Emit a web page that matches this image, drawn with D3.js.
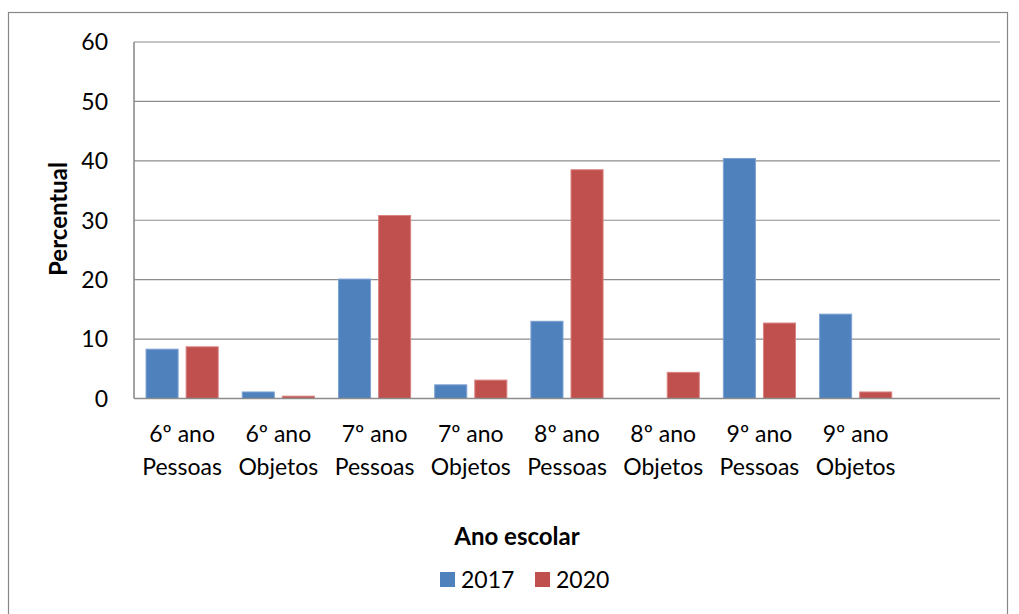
<!DOCTYPE html>
<html>
<head>
<meta charset="utf-8">
<script src="https://cdn.jsdelivr.net/npm/d3@7"></script>
<style>
  body { margin: 0; background: #fff; }
  text { font-family: Lato, "Noto Sans", sans-serif; fill: #000; }
</style>
</head>
<body>
<div id="chart"></div>
<script>
// categories (last slot is empty in the original sheet)
let categories = [
  ["6º ano", "Pessoas"], ["6º ano", "Objetos"],
  ["7º ano", "Pessoas"], ["7º ano", "Objetos"],
  ["8º ano", "Pessoas"], ["8º ano", "Objetos"],
  ["9º ano", "Pessoas"], ["9º ano", "Objetos"],
  ["", ""]
];
let seriesNames = ["2017", "2020"];
let values2017 = [8.3, 1.1, 20.1, 2.3, 13.0, 0, 40.4, 14.2, null];
let values2020 = [8.7, 0.4, 30.8, 3.1, 38.5, 4.4, 12.7, 1.1, null];
let yTicks = [0, 10, 20, 30, 40, 50, 60];
let colors = ["#4F81BD", "#C0504D"];
let strokes = ["#7FA3D3", "#D98482"];

let width = 1019, height = 614;
let plotLeft = 134, plotRight = 1000, plotTop = 42, plotBottom = 398.5;
let labelSize = "23px", titleSize = "24px";

let svg = d3.select("#chart").append("svg")
    .attr("width", width)
    .attr("height", height);

// outer chart frame
svg.append("rect")
    .attr("x", 8.5).attr("y", 12.5)
    .attr("width", 999).attr("height", 620)
    .attr("fill", "none")
    .attr("stroke", "#888")
    .attr("stroke-width", 1.2);

let idx = categories.map((d, i) => i);
let x = d3.scaleBand().domain(idx).range([plotLeft, plotRight]).paddingInner(0.25).paddingOuter(0.125);
let x1 = d3.scaleBand().domain([0, 1]).range([0, x.bandwidth()]).paddingInner(0.2);
let y = d3.scaleLinear().domain([0, 60]).range([plotBottom, plotTop]);

// gridlines
svg.append("g")
    .selectAll("line")
    .data(yTicks.filter(t => t > 0))
    .enter()
    .append("line")
    .attr("x1", plotLeft).attr("x2", plotRight)
    .attr("y1", d => y(d)).attr("y2", d => y(d))
    .attr("stroke", "#8c8c8c")
    .attr("stroke-width", 1.2);

// y tick labels
svg.append("g")
    .selectAll("text")
    .data(yTicks)
    .enter()
    .append("text")
    .attr("x", 108)
    .attr("y", d => y(d))
    .attr("dy", "0.36em")
    .attr("text-anchor", "end")
    .style("font-size", labelSize)
    .text(d => d);

// bars
let series = [values2017, values2020];
series.forEach((vals, s) => {
    svg.append("g")
        .selectAll("rect")
        .data(vals.map((v, i) => ({ i: i, v: v })).filter(d => d.v !== null && d.v > 0))
        .enter()
        .append("rect")
        .attr("x", d => x(d.i) + x1(s))
        .attr("y", d => y(d.v))
        .attr("width", x1.bandwidth())
        .attr("height", d => y(0) - y(d.v))
        .attr("fill", colors[s])
        .attr("stroke", strokes[s])
        .attr("stroke-width", 1);
});

// axes lines
svg.append("line")
    .attr("x1", plotLeft).attr("x2", plotLeft)
    .attr("y1", plotTop).attr("y2", plotBottom)
    .attr("stroke", "#8c8c8c").attr("stroke-width", 1.6);
svg.append("line")
    .attr("x1", plotLeft).attr("x2", plotRight)
    .attr("y1", plotBottom).attr("y2", plotBottom)
    .attr("stroke", "#8c8c8c").attr("stroke-width", 1.6);

// category labels
let step = x.step();
let catG = svg.append("g")
    .selectAll("text")
    .data(idx)
    .enter()
    .append("text")
    .attr("text-anchor", "middle")
    .style("font-size", labelSize);
catG.append("tspan")
    .attr("x", d => plotLeft + step * d + step / 2)
    .attr("y", 442)
    .text(d => categories[d][0]);
catG.append("tspan")
    .attr("x", d => plotLeft + step * d + step / 2)
    .attr("y", 475)
    .text(d => categories[d][1]);

// axis titles
svg.append("text")
    .attr("transform", "translate(67, 219) rotate(-90)")
    .attr("text-anchor", "middle")
    .style("font-size", titleSize)
    .style("font-weight", "bold")
    .text("Percentual");

svg.append("text")
    .attr("x", 517)
    .attr("y", 545)
    .attr("text-anchor", "middle")
    .style("font-size", titleSize)
    .style("font-weight", "bold")
    .text("Ano escolar");

// legend
let legendX = [440, 535];
let legend = svg.append("g")
    .selectAll("g")
    .data(seriesNames)
    .enter()
    .append("g")
    .attr("transform", (d, i) => `translate(${legendX[i]}, 572)`);
legend.append("rect")
    .attr("width", 15).attr("height", 15)
    .attr("fill", (d, i) => colors[i]);
legend.append("text")
    .attr("x", 21)
    .attr("y", 15.5)
    .style("font-size", labelSize)
    .text(d => d);
</script>
</body>
</html>
